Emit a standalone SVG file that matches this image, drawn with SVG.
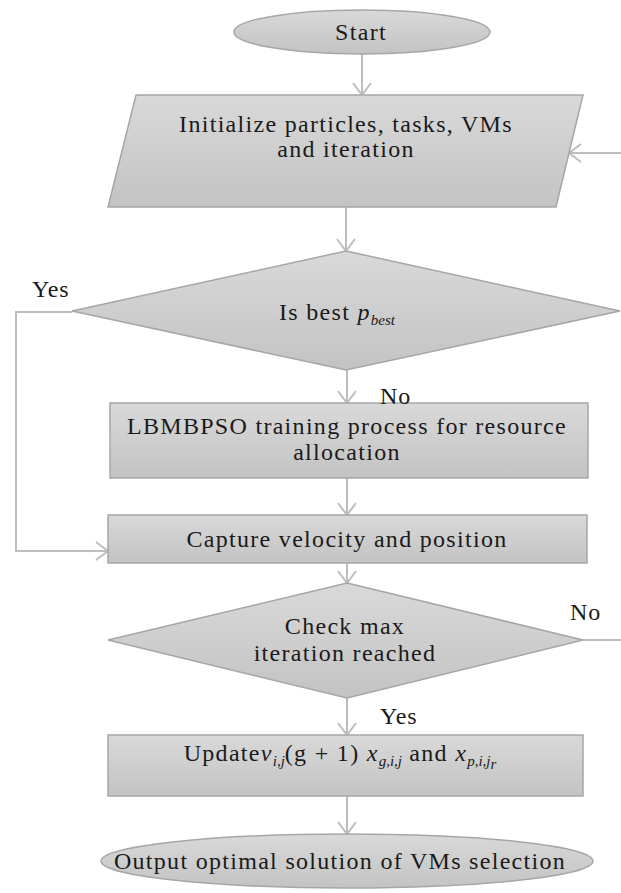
<svg xmlns="http://www.w3.org/2000/svg" width="621" height="893" viewBox="0 0 621 893">
<defs>
<linearGradient id="g" x1="0" y1="0" x2="0" y2="1">
<stop offset="0" stop-color="#d9d9d9"/>
<stop offset="1" stop-color="#c3c3c3"/>
</linearGradient>
<marker id="ah" markerUnits="userSpaceOnUse" markerWidth="30" markerHeight="30" viewBox="-15 -15 30 30" refX="0" refY="0" orient="auto">
<path d="M-12,-9 L0,0 L-12,9" fill="none" stroke="#bdbdbd" stroke-width="2"/>
</marker>
</defs>
<style>
.shape{fill:url(#g);stroke:#a6a6a6;stroke-width:1.5}
text{font-family:"Liberation Serif","Times New Roman",serif;fill:#1a1a1a}
.t{font-size:24px;letter-spacing:1.3px;text-anchor:middle}
.lbl{font-size:24px;letter-spacing:0.8px}
.it{font-style:italic}
.sub{font-size:15px;font-style:italic;letter-spacing:0}
.c{fill:none;stroke:#bdbdbd;stroke-width:2}
</style>
<rect width="621" height="893" fill="#ffffff"/>
<g id="connectors">
<line class="c" x1="362" y1="53" x2="362" y2="95" marker-end="url(#ah)"/>
<line class="c" x1="346" y1="207" x2="346" y2="251" marker-end="url(#ah)"/>
<line class="c" x1="347" y1="370" x2="347" y2="403" marker-end="url(#ah)"/>
<line class="c" x1="347" y1="478" x2="347" y2="515" marker-end="url(#ah)"/>
<polyline class="c" points="72,312 16,312 16,551 108,551" marker-end="url(#ah)"/>
<line class="c" x1="347" y1="563" x2="347" y2="583" marker-end="url(#ah)"/>
<line class="c" x1="583" y1="640" x2="621" y2="640"/>
<line class="c" x1="621" y1="153" x2="569" y2="153" marker-end="url(#ah)"/>
<line class="c" x1="347" y1="698" x2="347" y2="735" marker-end="url(#ah)"/>
<line class="c" x1="347" y1="796" x2="347" y2="834" marker-end="url(#ah)"/>
</g>
<g id="start">
<ellipse class="shape" cx="362" cy="32" rx="128" ry="22"/>
<text class="t" x="361" y="40">Start</text>
</g>
<g id="init">
<polygon class="shape" points="136,95 583,95 556,207 108,207"/>
<text class="t" x="346" y="132">Initialize particles, tasks, VMs</text>
<text class="t" x="346" y="157">and iteration</text>
</g>
<g id="decision1">
<polygon class="shape" points="346,251 620,311 346,370 72,311"/>
<text class="t" x="337" y="320">Is best <tspan class="it">p</tspan><tspan class="sub" dy="5">best</tspan></text>
<text class="lbl" x="32" y="297">Yes</text>
</g>
<g id="training">
<rect class="shape" x="110" y="403" width="478" height="75"/>
<text class="t" x="347" y="434">LBMBPSO  training process for resource</text>
<text class="t" x="347" y="460">allocation</text>
</g>
<text class="lbl" x="380" y="404">No</text>
<g id="capture">
<rect class="shape" x="108" y="515" width="479" height="48"/>
<text class="t" x="347" y="547">Capture velocity and position</text>
</g>
<g id="decision2">
<polygon class="shape" points="347,583 583,640 347,698 108,640"/>
<text class="t" x="345" y="634">Check max</text>
<text class="t" x="345" y="661">iteration reached</text>
<text class="lbl" x="570" y="620">No</text>
<text class="lbl" x="380" y="724">Yes</text>
</g>
<g id="update">
<rect class="shape" x="108" y="735" width="475" height="61"/>
<text class="t" x="340" y="761">Update<tspan class="it">v</tspan><tspan class="sub" dy="5">i,j</tspan><tspan dy="-5">(g + 1) </tspan><tspan class="it">x</tspan><tspan class="sub" dy="5">g,i,j</tspan><tspan dy="-5"> and </tspan><tspan class="it">x</tspan><tspan class="sub" dy="5">p,i,j</tspan><tspan class="sub" font-size="11" dy="3">r</tspan></text>
</g>
<g id="output">
<ellipse class="shape" cx="347" cy="861" rx="246" ry="27"/>
<text class="t" x="340" y="869">Output optimal solution of VMs selection</text>
</g>
</svg>
